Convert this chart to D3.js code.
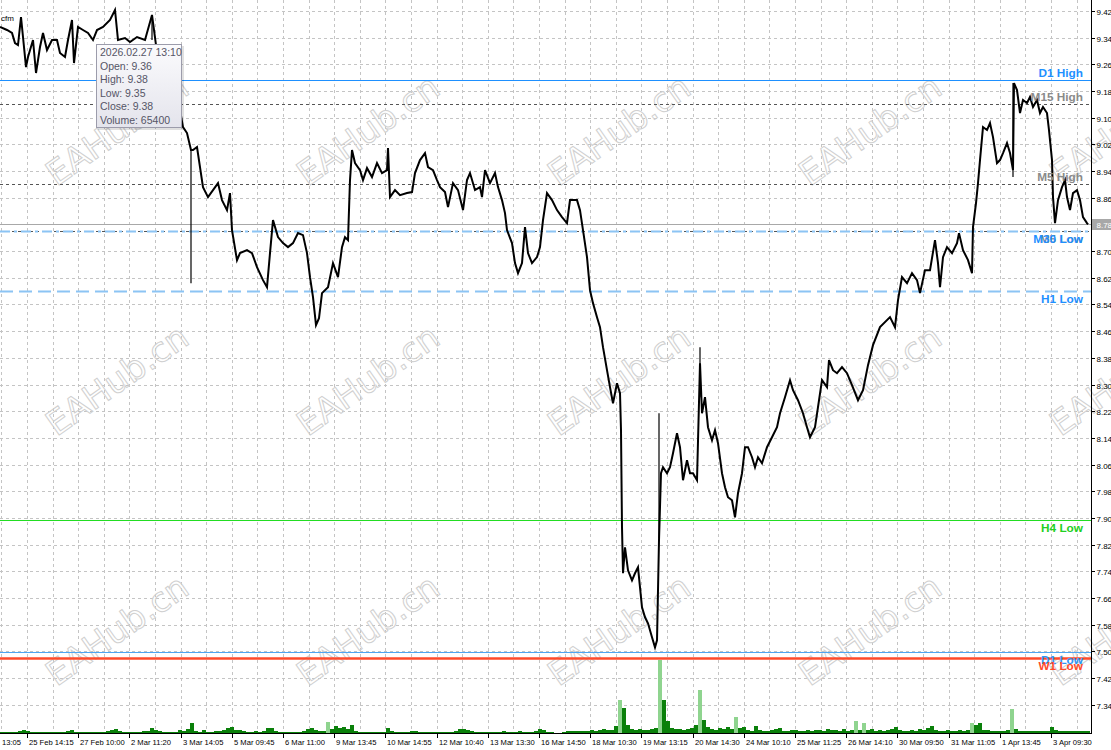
<!DOCTYPE html>
<html><head><meta charset="utf-8">
<script src="https://cdn.jsdelivr.net/npm/d3@7"></script>
<style>body{margin:0;background:#fff;overflow:hidden}svg{display:block}</style>
</head><body><svg id="c" width="1111" height="750"></svg>
<script>
// ---- data ----
const priceBars = [0,7,12,15,18,21,23,26,28,33,36,40,43,47,52,57,60,65,68,72,74,78,83,88,93,97,103,110,115,118,125,130,137,145,152,156,162,168,174,180,183,187,191,193,197,200,203,208,213,218,222,227,230,232,237,240,247,252,257,263,267,270,273,278,283,288,293,298,303,307,310,313,316,319,322,328,333,338,342,345,348,350,352,355,360,363,367,372,377,382,387,388,390,395,400,407,412,415,420,425,428,433,437,440,445,448,453,458,463,467,470,475,480,482,485,490,495,498,502,505,507,512,515,518,522,525,528,532,537,540,543,547,552,557,562,567,570,577,580,583,587,590,593,597,600,603,607,610,613,617,620,621,622,623,625,628,632,635,638,642,645,648,652,655,657,659,661,663,667,670,673,677,680,683,687,690,693,697,700,702,705,708,712,715,718,722,725,728,732,735,738,742,745,748,752,755,758,762,767,772,777,780,785,790,793,798,803,807,810,815,818,822,827,829,833,837,842,847,852,858,863,868,873,880,890,895,898,902,907,912,917,920,925,930,935,938,940,943,947,952,957,959,963,968,972,973,976,978,980,983,987,990,993,997,1000,1003,1007,1010,1013,1014,1017,1020,1023,1027,1030,1033,1037,1040,1043,1047,1049,1052,1053,1055,1058,1062,1065,1067,1070,1073,1077,1080,1083,1087,1088];
const closes = [9.372,9.363,9.354,9.324,9.318,9.402,9.342,9.252,9.282,9.333,9.234,9.312,9.354,9.303,9.333,9.333,9.294,9.282,9.333,9.393,9.264,9.372,9.363,9.354,9.333,9.363,9.372,9.393,9.423,9.333,9.339,9.327,9.342,9.333,9.408,9.318,9.273,9.228,9.183,9.123,9.072,9.054,9.003,9.003,9.012,8.952,8.892,8.862,8.883,8.904,8.853,8.823,8.874,8.763,8.673,8.694,8.703,8.694,8.652,8.613,8.592,8.694,8.793,8.742,8.724,8.712,8.724,8.754,8.748,8.694,8.622,8.562,8.478,8.499,8.574,8.592,8.664,8.622,8.712,8.742,8.733,8.913,9.003,8.964,8.943,8.913,8.949,8.922,8.964,8.934,8.943,9.009,8.862,8.883,8.868,8.874,8.877,8.934,8.973,8.994,8.952,8.943,8.913,8.892,8.877,8.832,8.904,8.883,8.823,8.913,8.934,8.883,8.892,8.862,8.943,8.904,8.934,8.892,8.853,8.814,8.763,8.724,8.664,8.634,8.664,8.772,8.694,8.664,8.682,8.712,8.793,8.874,8.853,8.823,8.802,8.784,8.853,8.853,8.823,8.763,8.682,8.583,8.544,8.502,8.472,8.412,8.343,8.292,8.244,8.304,8.274,8.163,7.872,7.734,7.812,7.743,7.713,7.734,7.752,7.632,7.602,7.584,7.542,7.512,7.533,7.833,8.034,8.052,8.034,8.052,8.094,8.154,8.112,8.013,8.073,8.034,8.034,8.013,8.364,8.214,8.262,8.172,8.133,8.163,8.124,8.034,7.992,7.962,7.953,7.902,7.974,8.034,8.112,8.112,8.082,8.052,8.082,8.064,8.112,8.142,8.172,8.214,8.262,8.313,8.283,8.253,8.214,8.172,8.142,8.172,8.232,8.313,8.292,8.373,8.343,8.334,8.352,8.334,8.298,8.253,8.283,8.358,8.418,8.472,8.502,8.472,8.553,8.622,8.604,8.634,8.613,8.574,8.643,8.643,8.733,8.664,8.592,8.682,8.712,8.694,8.724,8.754,8.703,8.673,8.634,8.772,8.844,8.904,8.973,9.072,9.063,9.084,9.042,8.964,8.973,8.994,9.024,8.994,8.943,9.204,9.183,9.114,9.153,9.144,9.162,9.132,9.153,9.114,9.132,9.114,9.063,8.973,8.862,8.784,8.853,8.892,8.913,8.862,8.823,8.874,8.883,8.853,8.802,8.784,8.780];
const wickBars = [152, 191, 659, 700, 1013];
const wickHigh = [9.408, 9.003, 8.214, 8.412, 9.204];
const wickLow  = [9.333, 8.604, 7.839, 8.262, 8.922];
// volume in thousands, one value per 4 bars
const volumes = [20,20,20,20,20,40,60,40,20,20, 20,20,20,20,20,20,20,40,60,20, 20,20,20,20,20,20,20,40,60,80, 40,20,20,20,20,20,40,40,100,60, 40,20,20,20,20,60,40,80,200,40, 20,60,20,20,40,40,60,100,120,60, 60,40,20,20,40,20,40,100,100,40, 20,20,20,20,20,20,40,80,100,60, 40,40,220,80,140,100,120,80,160,40, 20,20,20,20,20,20,20,100,40,20, 20,20,20,40,40,20,20,20,20,20, 20,20,20,20,40,80,80,60,40,20, 20,20,20,20,20,20,40,20,20,20, 40,20,20,20,40,80,60,20,20,10, 10,20,40,40,40,40,40,40,60,40, 60,80,60,60,140,660,500,160,80,60, 80,60,60,80,100,1460,660,240,100,80, 80,60,80,100,160,860,260,120,80,60, 100,80,120,80,320,100,120,60,40,140, 60,40,40,60,80,100,40,40,60,60, 40,40,60,40,60,60,40,80,60,60, 40,80,40,60,240,60,200,60,80,40, 60,40,60,80,120,60,40,40,60,40, 80,60,100,140,60,40,40,60,40,40, 60,40,60,200,160,200,60,60,40,40, 40,40,60,480,80,40,40,40,40,40, 40,40,40,120,60,40,40,40,40,40, 40,40,40];
const volStep = 4;
const priceTicks = [9.42,9.34,9.26,9.18,9.10,9.02,8.94,8.86,8.78,8.70,8.62,8.54,8.46,8.38,8.30,8.22,8.14,8.06,7.98,7.90,7.82,7.74,7.66,7.58,7.50,7.42,7.34];
const firstLabel = "13:05";
const timeLabels = ["25 Feb 14:15","27 Feb 10:00","2 Mar 11:20","3 Mar 14:05","5 Mar 09:45","6 Mar 11:00","9 Mar 13:45","10 Mar 14:55","12 Mar 10:40","13 Mar 13:30","16 Mar 14:50","18 Mar 10:30","19 Mar 13:15","20 Mar 14:30","24 Mar 10:10","25 Mar 11:25","26 Mar 14:10","30 Mar 09:50","31 Mar 11:05","1 Apr 13:45","3 Apr 09:30"];
const levelNames  = ["M5 Low","M30 Low","D1 High","M15 High","M5 High","H1 Low","H4 Low","D1 Low","W1 Low"];
const levelPrices = [8.760, 8.760, 9.213, 9.141, 8.901, 8.580, 7.893, 7.497, 7.479];
const currentPrice = 8.78;
const tooltipLines = ["2026.02.27 13:10","Open: 9.36","High: 9.38","Low: 9.35","Close: 9.38","Volume: 65400"];
const watermark = "EAHub.cn";

// ---- styles ----
const levelStyle = {
  "D1 High": {line:"#1e90ff", w:1, dash:null, text:"#1e90ff"},
  "M15 High":{line:"#555", w:1, dash:"3,3", text:"#8a8a8a"},
  "M5 High": {line:"#555", w:1, dash:"3,3", text:"#8a8a8a"},
  "M30 Low": {line:"#8cc4f4", w:2, dash:"10,4,3,4", text:"#1e90ff"},
  "M5 Low":  {line:"#555", w:1, dash:"3,3", text:"#8a8a8a"},
  "H1 Low":  {line:"#8cc4f4", w:2, dash:"13,6", text:"#1e90ff"},
  "H4 Low":  {line:"#22dd22", w:1, dash:null, text:"#22d022"},
  "D1 Low":  {line:"#4ea6f2", w:1, dash:null, text:"#2e96f6"},
  "W1 Low":  {line:"#ff4a2a", w:2.5, dash:null, text:"#ff4a2a"}
};

const W = 1111, H = 750, plotR = 1091, plotB = 733;
const svg = d3.select("#c");
const x = d3.scaleLinear().domain([0, 1091]).range([0, plotR]);
const y = d3.scaleLinear().domain([9.42 - 722/333.5, 9.42 + 11/333.5]).range([plotB, 0]);
const vy = d3.scaleLinear().domain([0, 1500]).range([plotB, plotB - 75]);

svg.append("rect").attr("width", W).attr("height", H).attr("fill", "#fff");
svg.append("defs").append("clipPath").attr("id","plot").append("rect").attr("x",0).attr("y",0).attr("width",plotR).attr("height",plotB);

// grid
const grid = svg.append("g").attr("stroke","#c4c4c4").attr("stroke-dasharray","3,3").attr("shape-rendering","crispEdges");
grid.selectAll("line.h").data(priceTicks).join("line").attr("class","h")
  .attr("x1",0).attr("x2",plotR).attr("y1",d=>Math.round(y(d))+0.5).attr("y2",d=>Math.round(y(d))+0.5);
const gridBars = d3.range(0, 43).map(k => 1.4 + 25.6*k);
grid.selectAll("line.v").data(gridBars).join("line").attr("class","v")
  .attr("y1",0).attr("y2",plotB).attr("x1",d=>Math.round(x(d))+0.5).attr("x2",d=>Math.round(x(d))+0.5);

// watermark
const wm = svg.append("g");
const wmCols = d3.range(5).map(i => 117 + 251*i), wmRows = d3.range(3).map(j => 130 + 250*j);
wmRows.forEach(cy => wmCols.forEach(cx => {
  wm.append("text").attr("transform",`translate(${cx},${cy}) rotate(-35)`)
    .attr("text-anchor","middle").attr("dy","0.35em")
    .attr("font-family","DejaVu Sans, Verdana, sans-serif").attr("font-size",34)
    .attr("fill","none").attr("stroke","#d0d0d0").attr("stroke-width",1).text(watermark);
}));

// volumes
const vg = svg.append("g").attr("clip-path","url(#plot)").attr("shape-rendering","crispEdges");
vg.selectAll("rect").data(volumes).join("rect")
  .attr("x",(d,i)=>x(i*volStep)-2).attr("width",4)
  .attr("y",d=>vy(d)).attr("height",d=>plotB - vy(d))
  .attr("fill",(d,i)=> (i>0 && d > volumes[i-1]*2.5 && d >= 200) ? "#8fd48f" : "#0a800a");

// level lines
const lv = svg.append("g");
levelNames.forEach((n,i) => {
  const s = levelStyle[n], yy = Math.round(y(levelPrices[i])) + 0.5;
  const l = lv.append("line").attr("x1",0).attr("x2",plotR).attr("y1",yy).attr("y2",yy)
    .attr("stroke",s.line).attr("stroke-width",s.w);
  if (s.dash) l.attr("stroke-dasharray",s.dash);
});
// current price line
const cy0 = Math.round(y(currentPrice)) + 0.5;
svg.append("line").attr("x1",0).attr("x2",plotR).attr("y1",cy0).attr("y2",cy0).attr("stroke","#a8a8a8");

// price path
const pts = priceBars.map((b,i)=>({b, c:closes[i]}));
const pg = svg.append("g").attr("clip-path","url(#plot)");
pg.append("path").datum(pts)
  .attr("d", d3.line().x(d=>x(d.b)).y(d=>y(d.c)))
  .attr("fill","none").attr("stroke","#000").attr("stroke-width",2).attr("stroke-linejoin","miter");
pg.selectAll("line.wick").data(wickBars).join("line").attr("class","wick")
  .attr("x1",d=>x(d)).attr("x2",d=>x(d))
  .attr("y1",(d,i)=>y(wickHigh[i])).attr("y2",(d,i)=>y(wickLow[i]))
  .attr("stroke","#000").attr("stroke-width",1.2);

// level labels
levelNames.forEach((n,i) => {
  const s = levelStyle[n], yy = y(levelPrices[i]);
  const isHigh = n.indexOf("High") >= 0;
  svg.append("text").attr("x",1083).attr("y", isHigh ? yy - 3 : yy + 12)
    .attr("text-anchor","end").attr("font-family","Liberation Sans, Arial, sans-serif")
    .attr("font-weight","bold").attr("font-size",11.8).attr("fill",s.text).text(n);
});

// axes
const ax = svg.append("g").attr("shape-rendering","crispEdges");
ax.append("line").attr("x1",plotR+0.5).attr("x2",plotR+0.5).attr("y1",0).attr("y2",plotB+1).attr("stroke","#000");
ax.append("line").attr("x1",0).attr("x2",plotR).attr("y1",plotB+0.5).attr("y2",plotB+0.5).attr("stroke","#000");
priceTicks.forEach(p => {
  const yy = Math.round(y(p)) + 0.5;
  ax.append("line").attr("x1",plotR).attr("x2",plotR+4).attr("y1",yy).attr("y2",yy).attr("stroke","#000");
  svg.append("text").attr("x",plotR+5.5).attr("y",yy+3).attr("font-family","Liberation Sans, Arial, sans-serif")
    .attr("font-size",8).attr("fill","#000").text(p.toFixed(2));
});
// current price box
svg.append("rect").attr("x",plotR+1).attr("y",cy0-5.5).attr("width",W-plotR-1).attr("height",11).attr("fill","#a8a8a8");
svg.append("text").attr("x",plotR+5.5).attr("y",cy0+3).attr("font-family","Liberation Sans, Arial, sans-serif")
  .attr("font-size",8).attr("fill","#fff").text(currentPrice.toFixed(2));

// time axis
const tickBars = timeLabels.map((t,k) => 27 + 51.2*k);
tickBars.forEach((b,k) => {
  const xx = Math.round(x(b)) + 0.5;
  ax.append("line").attr("x1",xx).attr("x2",xx).attr("y1",plotB).attr("y2",plotB+5).attr("stroke","#000");
  svg.append("text").attr("x",xx+1.5).attr("y",plotB+12).attr("font-family","Liberation Sans, Arial, sans-serif")
    .attr("font-size",7.6).attr("fill","#000").text(timeLabels[k]);
});
svg.append("text").attr("x",x(0)+2).attr("y",plotB+12).attr("font-family","Liberation Sans, Arial, sans-serif")
  .attr("font-size",7.6).attr("fill","#000").text(firstLabel);

// top-left symbol remnant
svg.append("text").attr("x",1).attr("y",21).attr("font-family","Liberation Sans, Arial, sans-serif")
  .attr("font-size",8).attr("fill","#000").text("cfm");

// tooltip
const defs = svg.select("defs");
const gr = defs.append("linearGradient").attr("id","tg").attr("x1",0).attr("y1",0).attr("x2",0).attr("y2",1);
gr.append("stop").attr("offset","0%").attr("stop-color","#fbfbfd");
gr.append("stop").attr("offset","100%").attr("stop-color","#e4e4ec");
const tt = svg.append("g");
tt.append("rect").attr("x",98).attr("y",46).attr("width",86).attr("height",84).attr("fill","#000").attr("opacity",0.12);
tt.append("rect").attr("x",96.5).attr("y",44.5).attr("width",85).attr("height",83).attr("fill","url(#tg)").attr("stroke","#9c9cab");
tooltipLines.forEach((t,i) => {
  tt.append("text").attr("x",100).attr("y",56 + i*13.5).attr("font-family","Liberation Sans, Arial, sans-serif")
    .attr("font-size",10.5).attr("fill","#555566").text(t);
});
</script></body></html>
